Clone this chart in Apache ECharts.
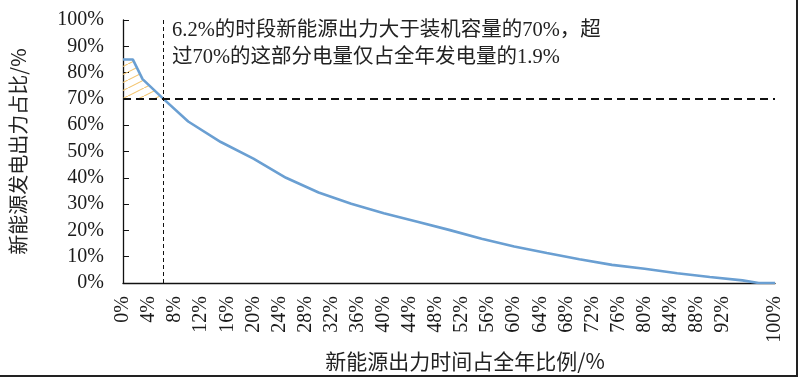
<!DOCTYPE html>
<html>
<head>
<meta charset="utf-8">
<script src="https://cdn.jsdelivr.net/npm/echarts@6/dist/echarts.min.js"></script>
<style>
  html, body { margin: 0; padding: 0; background: #fff; }
  #main { width: 800px; height: 378px; }
</style>
</head>
<body>
<div id="main"></div>
<script>
var chartDom = document.getElementById("main");
var myChart = echarts.init(chartDom);
var option;

// duration curve (x: % of year, y: % of capacity)
const timeShare = [0, 1.5, 3, 6.2, 10, 15, 20, 25, 30, 35, 40, 45, 50, 55, 60, 65, 70, 75, 80, 85, 90, 95, 97.5, 100];
const outputShare = [85, 85, 77.5, 70, 61.4, 53.6, 47.3, 40, 34.4, 30.1, 26.5, 23.4, 20.2, 16.8, 13.9, 11.4, 9, 6.9, 5.4, 3.7, 2.3, 1, 0, 0];
const xTickValues = [0, 4, 8, 12, 16, 20, 24, 28, 32, 36, 40, 44, 48, 52, 56, 60, 64, 68, 72, 76, 80, 84, 88, 92, 100];
const threshold = 70;
const thresholdTime = 6.2;
const noteLines = [
  "6.2%的时段新能源出力大于装机容量的70%，超",
  "过70%的这部分电量仅占全年发电量的1.9%",
];

const serifFont = "'Liberation Serif', 'Noto Sans CJK SC', serif";
const cjkFont = "'Noto Sans CJK SC', 'Liberation Serif', serif";

// yellow diagonal hatch
const hatch = document.createElement("canvas");
hatch.width = 16;
hatch.height = 8;
const hctx = hatch.getContext("2d");
hctx.strokeStyle = "#f3c46e";
hctx.lineWidth = 1.1;
hctx.beginPath();
hctx.moveTo(0, 8);
hctx.lineTo(16, 0);
hctx.stroke();

const curve = timeShare.map((x, i) => [x, outputShare[i]]);
const above = curve.filter((p) => p[0] <= thresholdTime);

option = {
  animation: false,
  backgroundColor: "#fff",
  grid: { left: 122, right: 25, top: 20, bottom: 95 },
  xAxis: {
    type: "value",
    min: 0,
    max: 100,
    interval: 4,
    name: "新能源出力时间占全年比例/%",
    nameLocation: "middle",
    nameGap: 60,
    nameTextStyle: {
      fontFamily: cjkFont,
      fontSize: 21,
      color: "#222",
      padding: [0, 0, 0, 32],
    },
    axisLine: { lineStyle: { color: "#111", width: 1.3 } },
    axisTick: { show: false },
    splitLine: { show: false },
    axisLabel: {
      customValues: xTickValues,
      rotate: 90,
      margin: 13,
      fontFamily: serifFont,
      fontSize: 20,
      color: "#1a1a1a",
      formatter: "{value}%",
    },
  },
  yAxis: {
    type: "value",
    min: 0,
    max: 100,
    interval: 10,
    name: "新能源发电出力占比/%",
    nameLocation: "middle",
    nameRotate: 90,
    nameGap: 95,
    nameTextStyle: { fontFamily: cjkFont, fontSize: 20, color: "#222" },
    axisLine: { show: true, lineStyle: { color: "#111", width: 1.3 } },
    axisTick: { show: true, inside: true, length: 6, lineStyle: { color: "#111" } },
    splitLine: { show: false },
    axisLabel: {
      margin: 19,
      fontFamily: serifFont,
      fontSize: 20,
      color: "#1a1a1a",
      formatter: "{value}%",
    },
  },
  series: [
    {
      type: "custom",
      silent: true,
      data: [0],
      z: 1,
      renderItem: function (params, api) {
        const pts = above.map((p) => api.coord(p));
        pts.push(api.coord([above[0][0], threshold]));
        return {
          type: "polygon",
          shape: { points: pts },
          style: { fill: { image: hatch, repeat: "repeat" }, stroke: null },
        };
      },
    },
    {
      type: "line",
      data: curve,
      showSymbol: false,
      smooth: false,
      z: 3,
      lineStyle: { color: "#6a9fd2", width: 2.6 },
      markLine: {
        silent: true,
        symbol: "none",
        label: { show: false },
        data: [
          { yAxis: threshold, lineStyle: { color: "#111", type: [8, 5], width: 2 } },
          { xAxis: thresholdTime, lineStyle: { color: "#111", type: [4, 3], width: 1 } },
        ],
      },
    },
  ],
  graphic: {
    elements: [
      {
        type: "text",
        left: 172,
        top: 17,
        style: {
          text: noteLines.join("\n"),
          fontFamily: serifFont,
          fontSize: 20.5,
          lineHeight: 27,
          fill: "#222",
        },
      },
      {
        type: "line",
        shape: { x1: 797, y1: 0, x2: 797, y2: 376 },
        style: { stroke: "#222", lineWidth: 2 },
      },
      {
        type: "line",
        shape: { x1: 0, y1: 376, x2: 798, y2: 376 },
        style: { stroke: "#222", lineWidth: 2 },
      },
    ],
  },
};

option && myChart.setOption(option);
</script>
</body>
</html>
